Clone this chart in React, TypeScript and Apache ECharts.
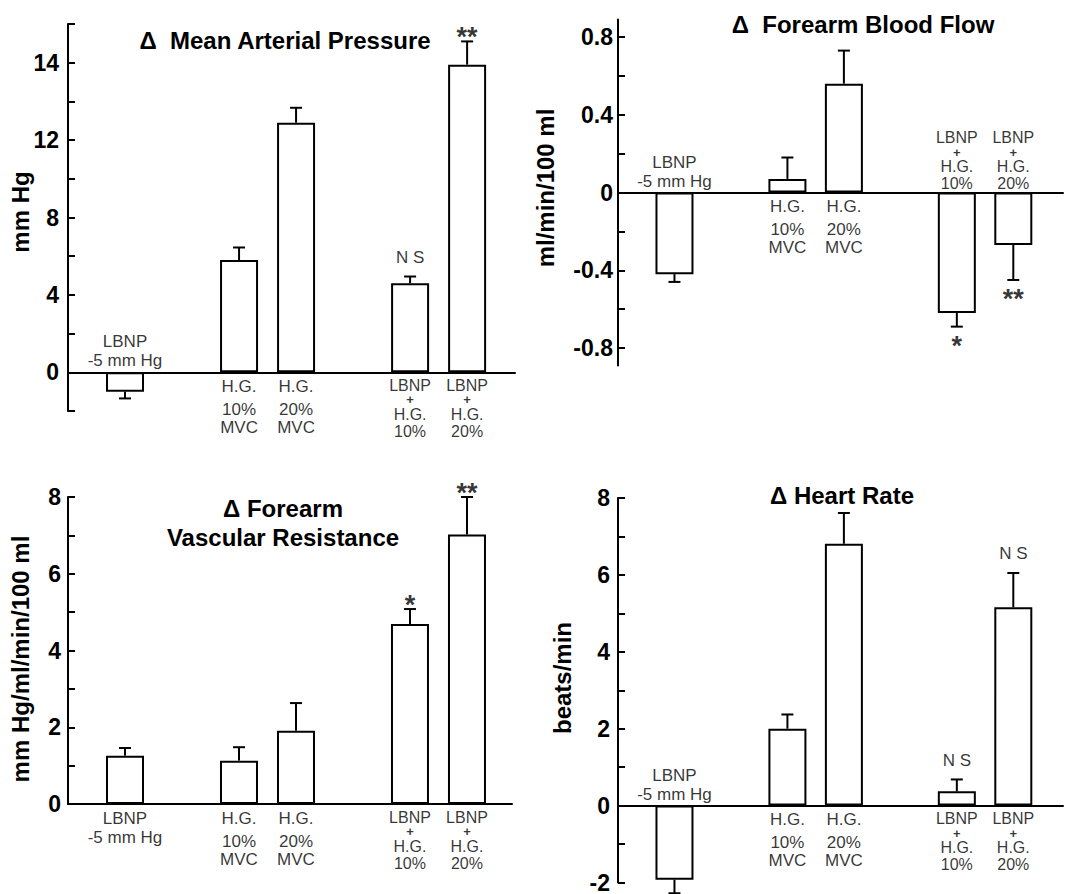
import React, { useEffect, useRef } from 'react';
import * as echarts from 'echarts';

const FONT = '"Liberation Sans", Arial, Helvetica, sans-serif';

// ---- categories (bar labels) and slot positions (gaps between groups) ----
const categoryLines = [
  ['LBNP', '-5 mm Hg'],
  ['H.G.', '10%', 'MVC'],
  ['H.G.', '20%', 'MVC'],
  ['LBNP', '+', 'H.G.', '10%'],
  ['LBNP', '+', 'H.G.', '20%'],
];
const slotPositions = [0, 2, 3, 5, 6];

// ---- Δ Mean Arterial Pressure (mm Hg) ----
const mapValues = [-1.0, 5.8, 12.9, 4.6, 15.9];
const mapErrors = [0.35, 0.65, 0.77, 0.35, 1.2];
const mapMarks = ['', '', '', 'N S', '**'];
const mapTicks = [-2, 0, 2, 4, 6, 8, 10, 12, 14, 16, 18];
const mapLabelValues = [0, 4, 8, 12, 16];
const mapLabels = ['0', '4', '8', '12', '14'];

// ---- Δ Forearm Blood Flow (ml/min/100 ml) ----
const fbfValues = [-0.42, 0.07, 0.56, -0.62, -0.27];
const fbfErrors = [0.04, 0.11, 0.17, 0.07, 0.18];
const fbfMarks = ['', '', '', '*', '**'];
const fbfTicks = [-0.8, -0.6, -0.4, -0.2, 0, 0.2, 0.4, 0.6, 0.8];
const fbfLabelValues = [-0.8, -0.4, 0, 0.4, 0.8];
const fbfLabels = ['-0.8', '-0.4', '0', '0.4', '0.8'];

// ---- Δ Forearm Vascular Resistance (mm Hg/ml/min/100 ml) ----
const fvrValues = [1.26, 1.13, 1.91, 4.69, 7.02];
const fvrErrors = [0.2, 0.35, 0.72, 0.39, 0.98];
const fvrMarks = ['', '', '', '*', '**'];
const fvrTicks = [0, 1, 2, 3, 4, 5, 6, 7, 8];
const fvrLabelValues = [0, 2, 4, 6, 8];
const fvrLabels = ['0', '2', '4', '6', '8'];

// ---- Δ Heart Rate (beats/min) ----
const hrValues = [-1.93, 2.0, 6.81, 0.37, 5.16];
const hrErrors = [0.35, 0.37, 0.8, 0.31, 0.89];
const hrMarks = ['', '', '', 'N S', 'N S'];
const hrTicks = [-2, -1, 0, 1, 2, 3, 4, 5, 6, 7, 8];
const hrLabelValues = [-2, 0, 2, 4, 6, 8];
const hrLabels = ['-2', '0', '2', '4', '6', '8'];

const panelData = [
  { values: mapValues, errors: mapErrors, marks: mapMarks, ticks: mapTicks, labelValues: mapLabelValues, labels: mapLabels, title: ['Δ  Mean Arterial Pressure'], yName: 'mm Hg' },
  { values: fbfValues, errors: fbfErrors, marks: fbfMarks, ticks: fbfTicks, labelValues: fbfLabelValues, labels: fbfLabels, title: ['Δ  Forearm Blood Flow'], yName: 'ml/min/100 ml' },
  { values: fvrValues, errors: fvrErrors, marks: fvrMarks, ticks: fvrTicks, labelValues: fvrLabelValues, labels: fvrLabels, title: ['Δ Forearm', 'Vascular Resistance'], yName: 'mm Hg/ml/min/100 ml' },
  { values: hrValues, errors: hrErrors, marks: hrMarks, ticks: hrTicks, labelValues: hrLabelValues, labels: hrLabels, title: ['Δ Heart Rate'], yName: 'beats/min' },
];

// ---- layout (pixels) ----
const layouts = [
  { left: 68, top: 24, width: 447, height: 387, xMax: 6.84, yMin: -2, yMax: 18, labelMargin: 9, titleX: 285, titleY: [40], nameX: 20, nameY: 212 },
  { left: 618, top: 19.5, width: 445, height: 346, xMax: 6.88, yMin: -0.89, yMax: 0.89, labelMargin: 5, titleX: 863, titleY: [24], nameX: 545, nameY: 188 },
  { left: 68, top: 497, width: 444, height: 307, xMax: 6.79, yMin: 0, yMax: 8, labelMargin: 7, titleX: 283, titleY: [508, 537], nameX: 20, nameY: 659 },
  { left: 618, top: 498, width: 445, height: 385, xMax: 6.88, yMin: -2, yMax: 8, labelMargin: 8, titleX: 842, titleY: [495], nameX: 562, nameY: 678 },
];

const rich = {
  a: { fontFamily: FONT, fontSize: 17, lineHeight: 19, color: '#000' },
  h: { fontFamily: FONT, fontSize: 17, lineHeight: 28, color: '#000' },
  c: { fontFamily: FONT, fontSize: 16, lineHeight: 16, color: '#000' },
  p: { fontFamily: FONT, fontSize: 13, lineHeight: 13, color: '#000', fontWeight: 'bold' },
  d: { fontFamily: FONT, fontSize: 16, lineHeight: 18, color: '#000' },
  m: { fontFamily: FONT, fontSize: 17, lineHeight: 18, color: '#000' },
};

function richLabel(lines: string[]): { text: string; kind: string } {
  if (lines.length === 2) return { text: lines.map((l) => `{a|${l}}`).join('\n'), kind: 'A' };
  if (lines.length === 3) return { text: `{h|${lines[0]}}\n{m|${lines[1]}}\n{m|${lines[2]}}`, kind: 'B' };
  return { text: `{c|${lines[0]}}\n{p|${lines[1]}}\n{c|${lines[2]}}\n{d|${lines[3]}}`, kind: 'C' };
}

function labelDistance(kind: string, above: boolean) {
  if (kind === 'A') return above ? 2 : 5;
  if (kind === 'B') return 0;
  return above ? 0 : 5;
}

function markOffset(mark: string, up: boolean) {
  if (mark.indexOf('*') >= 0) return up ? -4 : 19;
  return up ? -19 : 19;
}

function errorRender(params: any, api: any) {
  const x = api.value(0);
  const v = api.value(1);
  const e = api.value(2);
  const end = v >= 0 ? v + e : v - e;
  const p0 = api.coord([x, v]);
  const p1 = api.coord([x, end]);
  const st = { stroke: '#000', lineWidth: 2 };
  return {
    type: 'group',
    children: [
      { type: 'line', shape: { x1: p0[0], y1: p0[1], x2: p1[0], y2: p1[1] }, style: st },
      { type: 'line', shape: { x1: p1[0] - 6, y1: p1[1], x2: p1[0] + 6, y2: p1[1] }, style: st },
    ],
  };
}

function buildOption() {
  const grid: any[] = [];
  const xAxis: any[] = [];
  const yAxis: any[] = [];
  const series: any[] = [];
  const graphic: any[] = [];

  panelData.forEach((p, i) => {
    const L = layouts[i];
    grid.push({ left: L.left, top: L.top, width: L.width, height: L.height, containLabel: false });
    xAxis.push({
      type: 'value', gridIndex: i, min: -1, max: L.xMax,
      axisLine: { show: true, onZero: true, lineStyle: { color: '#000', width: 2 } },
      axisTick: { show: false }, axisLabel: { show: false }, splitLine: { show: false },
    });
    yAxis.push({
      type: 'value', gridIndex: i, min: L.yMin, max: L.yMax,
      axisLine: { show: true, onZero: false, lineStyle: { color: '#000', width: 2 } },
      axisTick: { show: true, inside: true, length: 7, customValues: p.ticks, lineStyle: { color: '#000', width: 2 } },
      axisLabel: {
        show: true, customValues: p.labelValues, margin: L.labelMargin,
        color: '#000', fontFamily: FONT, fontSize: 23, fontWeight: 'bold',
        formatter: (v: number) => {
          const k = p.labelValues.findIndex((t) => Math.abs(t - v) < 1e-6);
          return k >= 0 ? p.labels[k] : '';
        },
      },
      splitLine: { show: false },
    });

    series.push({
      type: 'bar', xAxisIndex: i, yAxisIndex: i, barWidth: 38, silent: true,
      data: slotPositions.map((x, j) => [x, p.values[j]]),
      itemStyle: { color: '#fff', borderColor: '#000', borderWidth: 2 },
    });
    series.push({
      type: 'custom', xAxisIndex: i, yAxisIndex: i, silent: true, z: 3,
      encode: { x: 0, y: 1 },
      data: slotPositions.map((x, j) => [x, p.values[j], p.errors[j]]),
      renderItem: errorRender,
    });
    series.push({
      type: 'scatter', xAxisIndex: i, yAxisIndex: i, silent: true, symbolSize: 0,
      itemStyle: { color: 'rgba(0,0,0,0)' },
      label: { show: true, color: '#000', fontFamily: FONT, fontSize: 17, rich },
      data: slotPositions.map((x, j) => {
        const above = p.values[j] < 0;
        const r = richLabel(categoryLines[j]);
        return {
          value: [x, 0],
          label: { show: true, position: above ? 'top' : 'bottom', distance: labelDistance(r.kind, above), formatter: r.text, rich },
        };
      }),
    });
    series.push({
      type: 'scatter', xAxisIndex: i, yAxisIndex: i, silent: true, symbolSize: 0,
      itemStyle: { color: 'rgba(0,0,0,0)' },
      data: slotPositions
        .map((x, j) => ({ j, x }))
        .filter((o) => p.marks[o.j] !== '')
        .map(({ j, x }) => {
          const v = p.values[j];
          const up = v >= 0;
          const end = up ? v + p.errors[j] : v - p.errors[j];
          const mark = p.marks[j];
          const star = mark.indexOf('*') >= 0;
          return {
            value: [x, end],
            label: {
              show: true, position: 'inside', formatter: mark,
              offset: [0, markOffset(mark, up)],
              color: '#000', fontFamily: FONT,
              fontSize: star ? 27 : 17, fontWeight: star ? 'bold' : 'normal',
            },
          };
        }),
    });

    p.title.forEach((t, k) => {
      graphic.push({
        type: 'text', x: L.titleX, y: L.titleY[k], silent: true,
        style: {
          text: t, fill: '#000', font: `bold 24px ${FONT}`,
          textAlign: 'center', textVerticalAlign: 'middle', align: 'center', verticalAlign: 'middle',
        },
      });
    });
    graphic.push({
      type: 'text', x: L.nameX, y: L.nameY, rotation: Math.PI / 2, silent: true,
      style: {
        text: p.yName, fill: '#000', font: `bold 24px ${FONT}`,
        textAlign: 'center', textVerticalAlign: 'middle', align: 'center', verticalAlign: 'middle',
      },
    });
  });

  return {
    animation: false,
    backgroundColor: '#fff',
    grid, xAxis, yAxis, series, graphic,
  };
}

export default function App() {
  const ref = useRef<HTMLDivElement>(null);
  useEffect(() => {
    if (!ref.current) return;
    const chart = echarts.init(ref.current, null, { renderer: 'svg' });
    chart.setOption(buildOption() as any);
    return () => chart.dispose();
  }, []);
  return (
    <div
      ref={ref}
      style={{ position: 'absolute', left: 0, top: 0, width: 1065, height: 894, background: '#fff' }}
    />
  );
}
